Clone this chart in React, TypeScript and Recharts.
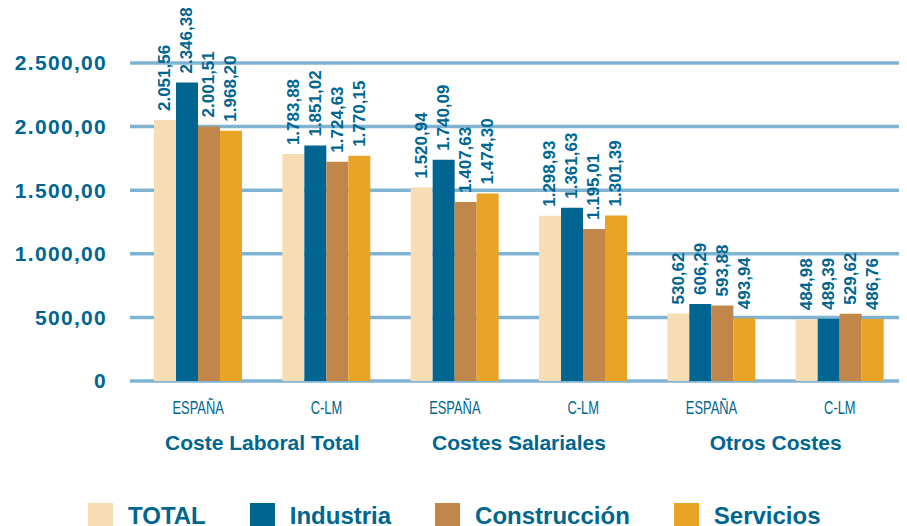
import { BarChart, Bar, XAxis, YAxis, CartesianGrid, LabelList } from "recharts";

const regions = ["ESPAÑA", "C-LM", "ESPAÑA", "C-LM", "ESPAÑA", "C-LM"];
const groups = [
  "Coste Laboral Total",
  "Coste Laboral Total",
  "Costes Salariales",
  "Costes Salariales",
  "Otros Costes",
  "Otros Costes",
];
const total = [2051.56, 1783.88, 1520.94, 1298.93, 530.62, 484.98];
const industria = [2346.38, 1851.02, 1740.09, 1361.63, 606.29, 489.39];
const construccion = [2001.51, 1724.63, 1407.63, 1195.01, 593.88, 529.62];
const servicios = [1968.2, 1770.15, 1474.3, 1301.39, 493.94, 486.76];
const yTicks = [0, 500, 1000, 1500, 2000, 2500];

const series = [
  { key: "total", name: "TOTAL", color: "#f8ddb4" },
  { key: "industria", name: "Industria", color: "#006691" },
  { key: "construccion", name: "Construcción", color: "#c1864a" },
  { key: "servicios", name: "Servicios", color: "#e9a425" },
];

const data = regions.map((r, i) => ({
  region: r,
  group: groups[i],
  total: total[i],
  industria: industria[i],
  construccion: construccion[i],
  servicios: servicios[i],
}));

const TEXT = "#00668f";
const FONT = "'Liberation Sans', Arial, sans-serif";

// 2051.56 -> "2.051,56"
function fmt(v: number) {
  const [ent, dec] = v.toFixed(2).split(".");
  return ent.replace(/\B(?=(\d{3})+(?!\d))/g, ".") + "," + dec;
}

function ValueLabel(props: any) {
  const { x, y, width, value } = props;
  const cx = x + width / 2;
  const cy = y - 9;
  return (
    <text
      x={cx}
      y={cy}
      transform={`rotate(-90, ${cx}, ${cy})`}
      textAnchor="start"
      dominantBaseline="central"
      fill={TEXT}
      fontSize={17}
      fontWeight={700}
      fontFamily={FONT}
    >
      {fmt(value)}
    </text>
  );
}

// narrow font look for the region names
function RegionTick({ x, y, payload }: any) {
  return (
    <g transform={`translate(${x},${y + 31}) scale(0.68,1)`}>
      <text x={0} y={0} textAnchor="middle" fill={TEXT} fontSize={19} fontFamily={FONT}>
        {payload.value}
      </text>
    </g>
  );
}

function GroupTick({ x, y, payload }: any) {
  return (
    <text x={x} y={y + 27} textAnchor="middle" fill={TEXT} fontSize={21} fontWeight={700} fontFamily={FONT}>
      {payload.value}
    </text>
  );
}

export default function App() {
  return (
    <div style={{ position: "relative", width: 899, height: 518, fontFamily: FONT }}>
      <BarChart
        width={899}
        height={460}
        data={data}
        barSize={22}
        barGap={0}
        margin={{ top: 55, right: 0, left: 0, bottom: 7 }}
      >
        <CartesianGrid vertical={false} stroke="#7fb3d1" strokeWidth={3.5} />
        <XAxis
          dataKey="region"
          interval={0}
          height={40}
          axisLine={false}
          tickLine={false}
          tickSize={0}
          padding={{ left: 4, right: 3 }}
          tick={<RegionTick />}
        />
        <XAxis
          xAxisId="group"
          dataKey="group"
          allowDuplicatedCategory={false}
          interval={0}
          height={40}
          axisLine={false}
          tickLine={false}
          tickSize={0}
          padding={{ left: 4, right: 3 }}
          tick={<GroupTick />}
        />
        <YAxis
          width={122}
          domain={[0, 2500]}
          ticks={yTicks}
          interval={0}
          axisLine={false}
          tickLine={false}
          tickSize={0}
          tickMargin={23}
          tickFormatter={(v: number) => (v === 0 ? "0" : fmt(v))}
          tick={{ fill: TEXT, fontSize: 21, fontWeight: 700, fontFamily: FONT, letterSpacing: 1.3 }}
        />
        {series.map((s) => (
          <Bar key={s.key} dataKey={s.key} name={s.name} fill={s.color} isAnimationActive={false}>
            <LabelList dataKey={s.key} content={<ValueLabel />} />
          </Bar>
        ))}
      </BarChart>
      <div
        style={{
          position: "absolute",
          left: 80,
          top: 495,
          display: "flex",
          alignItems: "center",
          gap: 44,
        }}
      >
        {series.map((s) => (
          <div key={s.key} style={{ display: "flex", alignItems: "center" }}>
            <div style={{ width: 25, height: 25, background: s.color, marginRight: 15 }} />
            <span style={{ color: TEXT, fontSize: 24, fontWeight: 700, lineHeight: "25px" }}>{s.name}</span>
          </div>
        ))}
      </div>
    </div>
  );
}
